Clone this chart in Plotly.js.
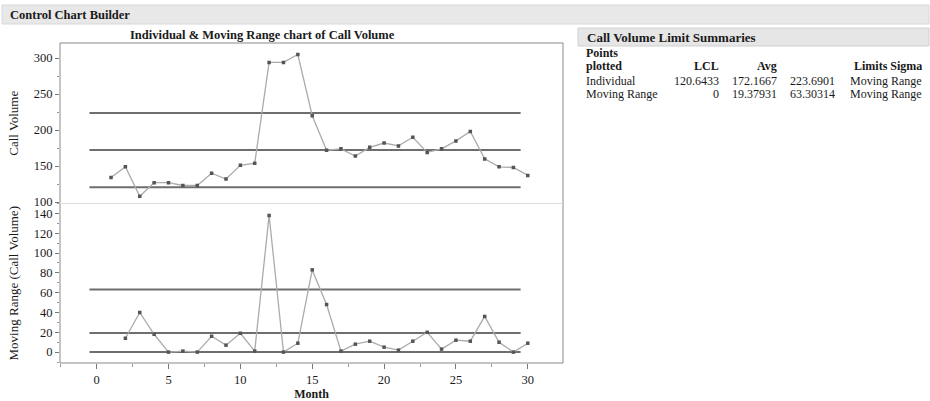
<!DOCTYPE html>
<html>
<head>
<meta charset="utf-8">
<script src="https://cdn.plot.ly/plotly-3.0.1.min.js"></script>
<style>
  html, body { margin: 0; padding: 0; background: #ffffff; }
  #chart { width: 930px; height: 401px; }
</style>
</head>
<body>
<div id="chart"></div>
<script>
// ---------------- data ----------------
const months = [1,2,3,4,5,6,7,8,9,10,11,12,13,14,15,16,17,18,19,20,21,22,23,24,25,26,27,28,29,30];
const callVolume = [134,149,108,127,127,123,123,140,132,151,154,294,294,305,220,172,174,164,176,182,178,190,169,174,185,198,160,149,148,137];
const mrMonths = [2,3,4,5,6,7,8,9,10,11,12,13,14,15,16,17,18,19,20,21,22,23,24,25,26,27,28,29,30];
const movingRange = [14,40,18,0,1,0,16,7,19,1,138,0,9,83,48,1,8,11,5,2,11,20,3,12,11,36,10,0,9];
const individualLimits = [120.6433, 172.1667, 223.6901];   // LCL, Avg, UCL
const movingRangeLimits = [0, 19.37931, 63.30314];          // LCL, Avg, UCL
const limitSpan = [-0.5, 29.5];
const xTicks = [0,5,10,15,20,25,30];
const yTicksTop = [100,150,200,250,300];
const yTicksBottom = [0,20,40,60,80,100,120,140];
const tableHeader = ["Points plotted", "LCL", "Avg", "", "Limits Sigma"];
const tableRows = [
  ["Individual", "120.6433", "172.1667", "223.6901", "Moving Range"],
  ["Moving Range", "0", "19.37931", "63.30314", "Moving Range"]
];

// ---------------- helpers ----------------
const W = 930, H = 401;
const px = v => v / W;
const py = v => 1 - v / H;
const FONT = "Liberation Serif, DejaVu Serif, serif";
const TXT = "#1a1a1a";

const traces = [];
function limitTrace(val, ya) {
  return {x: limitSpan, y: [val, val], xaxis: 'x', yaxis: ya, mode: 'lines',
          line: {color: '#6e6e6e', width: 2}, hoverinfo: 'skip', showlegend: false};
}
individualLimits.forEach(v => traces.push(limitTrace(v, 'y')));
movingRangeLimits.forEach(v => traces.push(limitTrace(v, 'y2')));
traces.push({x: months, y: callVolume, xaxis: 'x', yaxis: 'y', mode: 'lines+markers',
  line: {color: '#ababab', width: 1.3}, marker: {color: '#555', size: 3.5, symbol: 'square'},
  showlegend: false, name: 'Call Volume'});
traces.push({x: mrMonths, y: movingRange, xaxis: 'x', yaxis: 'y2', mode: 'lines+markers',
  line: {color: '#ababab', width: 1.3}, marker: {color: '#555', size: 3.5, symbol: 'square'},
  showlegend: false, name: 'Moving Range'});

const plotL = 60, plotR = 563, plotT = 43, plotMid = 203.5, plotB = 363;

const axisCommon = {
  showgrid: false, zeroline: false, showline: false,
  ticks: 'outside', ticklen: 4, tickcolor: '#777', tickwidth: 1,
  tickfont: {family: FONT, size: 12.5, color: TXT},
  fixedrange: true
};

const shapes = [
  // top header band
  {type: 'rect', xref: 'paper', yref: 'paper', x0: px(2), x1: px(929), y0: py(24), y1: py(5),
   fillcolor: '#e8e8e8', line: {color: '#d8d8d8', width: 1}, layer: 'below'},
  // table title band
  {type: 'rect', xref: 'paper', yref: 'paper', x0: px(578), x1: px(929), y0: py(46), y1: py(28),
   fillcolor: '#e6e6e6', line: {color: '#d0d0d0', width: 1}, layer: 'below'},
  // plot box
  {type: 'rect', xref: 'paper', yref: 'paper', x0: px(plotL), x1: px(plotR), y0: py(plotB), y1: py(plotT),
   fillcolor: 'rgba(0,0,0,0)', line: {color: '#8a8a8a', width: 1}},
  // divider between panels
  {type: 'line', xref: 'paper', yref: 'paper', x0: px(plotL), x1: px(plotR), y0: py(plotMid), y1: py(plotMid),
   line: {color: '#dddddd', width: 1}}
];

const annotations = [
  {text: '<b>Control Chart Builder</b>', xref: 'paper', yref: 'paper', x: px(8), y: py(14.5),
   xanchor: 'left', yanchor: 'middle', showarrow: false, font: {family: FONT, size: 12.5, color: TXT}},
  {text: '<b>Individual & Moving Range chart of Call Volume</b>', xref: 'paper', yref: 'paper',
   x: px(262), y: py(35), xanchor: 'center', yanchor: 'middle', showarrow: false,
   font: {family: FONT, size: 12.5, color: TXT}},
  {text: '<b>Call Volume Limit Summaries</b>', xref: 'paper', yref: 'paper', x: px(585), y: py(37),
   xanchor: 'left', yanchor: 'middle', showarrow: false, font: {family: FONT, size: 13, color: TXT}}
];

// table
const colRight = [null, 721, 779, 837, 924];
const colLeft = 584;
const hdrY1 = 53, hdrY2 = 66, rowY = [81, 94];
annotations.push({text: '<b>Points</b>', xref: 'paper', yref: 'paper', x: px(colLeft), y: py(hdrY1),
  xanchor: 'left', yanchor: 'middle', showarrow: false, font: {family: FONT, size: 12, color: TXT}});
annotations.push({text: '<b>plotted</b>', xref: 'paper', yref: 'paper', x: px(colLeft), y: py(hdrY2),
  xanchor: 'left', yanchor: 'middle', showarrow: false, font: {family: FONT, size: 12, color: TXT}});
for (let c = 1; c < tableHeader.length; c++) {
  if (!tableHeader[c]) continue;
  annotations.push({text: '<b>' + tableHeader[c] + '</b>', xref: 'paper', yref: 'paper',
    x: px(colRight[c]), y: py(hdrY2), xanchor: 'right', yanchor: 'middle', showarrow: false,
    font: {family: FONT, size: 12, color: TXT}});
}
tableRows.forEach((row, r) => {
  row.forEach((cell, c) => {
    annotations.push({text: cell, xref: 'paper', yref: 'paper',
      x: c === 0 ? px(colLeft) : px(colRight[c]), y: py(rowY[r]),
      xanchor: c === 0 ? 'left' : 'right', yanchor: 'middle', showarrow: false,
      font: {family: FONT, size: 12, color: TXT}});
  });
});

const layout = {
  width: W, height: H,
  margin: {l: 0, r: 0, t: 0, b: 0},
  paper_bgcolor: '#ffffff', plot_bgcolor: '#ffffff',
  font: {family: FONT, color: TXT},
  showlegend: false,
  xaxis: Object.assign({}, axisCommon, {
    domain: [px(plotL), px(plotR)], range: [-2.55, 32.45], anchor: 'y2',
    tickvals: xTicks, ticklen: 5,
    minor: {dtick: 2.5, tick0: 0, ticks: 'outside', ticklen: 3, tickcolor: '#999'},
    title: {text: '<b>Month</b>', font: {family: FONT, size: 12, color: TXT}, standoff: 2}
  }),
  yaxis: Object.assign({}, axisCommon, {
    domain: [py(plotMid), py(plotT)], range: [98, 321], anchor: 'x',
    tickvals: yTicksTop,
    minor: {dtick: 25, tick0: 0, ticks: 'outside', ticklen: 2.5, tickcolor: '#999'},
    title: {text: 'Call Volume', font: {family: FONT, size: 13, color: TXT}, standoff: 12}
  }),
  yaxis2: Object.assign({}, axisCommon, {
    domain: [py(plotB), py(plotMid)], range: [-11, 150], anchor: 'x',
    tickvals: yTicksBottom,
    minor: {dtick: 10, tick0: 0, ticks: 'outside', ticklen: 2.5, tickcolor: '#999'},
    title: {text: 'Moving Range (Call Volume)', font: {family: FONT, size: 13, color: TXT}, standoff: 12}
  }),
  shapes: shapes,
  annotations: annotations
};

Plotly.newPlot('chart', traces, layout, {displayModeBar: false, staticPlot: true});
</script>
</body>
</html>
